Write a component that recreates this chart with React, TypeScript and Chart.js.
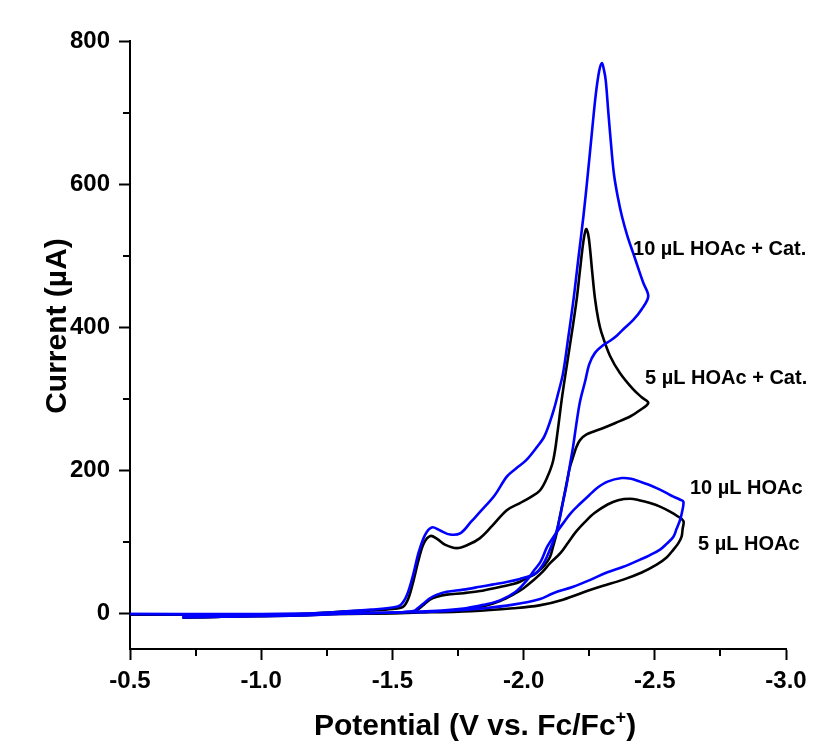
import React, { useEffect, useRef } from 'react';
import { Chart, registerables } from 'chart.js';

Chart.register(...registerables);

const FONT = '"Liberation Sans", Arial, Helvetica, sans-serif';
const BLUE = '#0000ff';
const BLACK = '#000000';

// Axis ticks
const xTicks = [-0.5, -1.0, -1.5, -2.0, -2.5, -3.0];
const xMinorTicks = [-0.75, -1.25, -1.75, -2.25, -2.75];
const yTicks = [0, 200, 400, 600, 800];
const yMinorTicks = [100, 300, 500, 700];

// 10 µL HOAc + Cat. (blue) — cathodic sweep then return sweep
const cat10FwdPotential = [-0.70, -0.85, -1.00, -1.15, -1.30, -1.42, -1.50, -1.53, -1.555, -1.58, -1.60, -1.625, -1.65, -1.68, -1.72, -1.76, -1.80, -1.84, -1.89, -1.936, -1.97, -2.01, -2.05, -2.08, -2.113, -2.13, -2.15, -2.17, -2.19, -2.21, -2.228, -2.245, -2.26, -2.275, -2.288, -2.298, -2.306, -2.313, -2.323, -2.335, -2.345, -2.36, -2.374, -2.395, -2.418, -2.44, -2.456, -2.475];
const cat10FwdCurrent = [-5, -4, -3, -1, 2, 5, 8, 11, 25, 55, 85, 110, 120, 116, 110, 112, 128, 144, 165, 191, 202, 214, 232, 248, 282, 305, 335, 385, 438, 500, 555, 615, 671, 725, 758, 769, 760, 745, 700, 648, 612, 580, 556, 528, 503, 479, 462, 443];
const cat10RevPotential = [-2.45, -2.418, -2.38, -2.355, -2.33, -2.304, -2.272, -2.25, -2.235, -2.215, -2.20, -2.189, -2.177, -2.164, -2.151, -2.138, -2.122, -2.107, -2.09, -2.075, -2.05, -2.024, -1.986, -1.94, -1.88, -1.834, -1.77, -1.707, -1.67, -1.643, -1.62, -1.60, -1.58, -1.50, -1.30, -1.00, -0.75, -0.50];
const cat10RevCurrent = [425, 410, 397, 388, 381, 375, 364, 348, 325, 296, 262, 234, 208, 180, 157, 133, 110, 95, 80, 69, 57, 52, 48, 44, 40, 37, 33, 30, 26, 21, 14, 8, 3, 1, 0, -1, -1, -1];

// 5 µL HOAc + Cat. (black)
const cat5FwdPotential = [-0.70, -0.85, -1.00, -1.15, -1.30, -1.42, -1.50, -1.54, -1.56, -1.58, -1.60, -1.62, -1.645, -1.67, -1.70, -1.745, -1.79, -1.834, -1.88, -1.936, -1.986, -2.03, -2.063, -2.09, -2.113, -2.13, -2.145, -2.164, -2.185, -2.202, -2.215, -2.228, -2.238, -2.246, -2.253, -2.262, -2.272, -2.285, -2.297, -2.329, -2.367, -2.418, -2.45, -2.475];
const cat5FwdCurrent = [-6, -5, -3, -1, 2, 4, 6, 9, 20, 45, 75, 98, 108, 104, 96, 91, 96, 105, 122, 144, 154, 163, 172, 190, 214, 255, 298, 345, 395, 438, 480, 520, 537, 530, 510, 475, 440, 410, 392, 360, 336, 313, 302, 294];
const cat5RevPotential = [-2.44, -2.406, -2.35, -2.304, -2.24, -2.215, -2.202, -2.19, -2.177, -2.164, -2.151, -2.138, -2.126, -2.113, -2.101, -2.08, -2.063, -2.04, -2.012, -1.986, -1.961, -1.90, -1.834, -1.77, -1.707, -1.67, -1.643, -1.62, -1.60, -1.58, -1.50, -1.20, -0.90, -0.50];
const cat5RevCurrent = [283, 275, 266, 259, 250, 242, 233, 220, 205, 182, 158, 135, 112, 94, 79, 67, 61, 54, 49, 44, 41, 36, 31, 28, 26, 23, 19, 12, 6, 2, 0, -1, -2, -2];

// 10 µL HOAc (blue)
const hoac10FwdPotential = [-0.70, -0.85, -1.00, -1.15, -1.30, -1.50, -1.65, -1.78, -1.85, -1.91, -1.97, -2.01, -2.04, -2.065, -2.09, -2.12, -2.151, -2.18, -2.215, -2.25, -2.28, -2.32, -2.374, -2.41, -2.444, -2.475, -2.507, -2.54, -2.571, -2.595, -2.609];
const hoac10FwdCurrent = [-6, -5, -4, -3, -1, 1, 3, 7, 12, 18, 30, 45, 60, 72, 93, 110, 126, 140, 153, 165, 175, 184, 189, 188, 184, 180, 175, 169, 163, 159, 156];
const hoac10RevPotential = [-2.603, -2.596, -2.583, -2.571, -2.545, -2.52, -2.48, -2.444, -2.38, -2.317, -2.25, -2.189, -2.113, -2.063, -1.96, -1.85, -1.70, -1.50, -1.20, -0.90, -0.50];
const hoac10RevCurrent = [140, 130, 118, 107, 97, 89, 81, 75, 65, 57, 46, 37, 28, 20, 12, 7, 3, 1, -1, -2, -1];

// 5 µL HOAc (black)
const hoac5FwdPotential = [-0.70, -0.85, -1.00, -1.15, -1.30, -1.50, -1.70, -1.783, -1.85, -1.91, -1.96, -2.00, -2.037, -2.07, -2.101, -2.14, -2.17, -2.20, -2.235, -2.27, -2.32, -2.36, -2.406, -2.44, -2.482, -2.52, -2.558, -2.585, -2.609];
const hoac5FwdCurrent = [-6, -5, -4, -3, -1, 0, 3, 6, 10, 17, 26, 35, 46, 57, 70, 84, 99, 114, 128, 140, 152, 158, 160, 158, 154, 149, 142, 136, 129];
const hoac5RevPotential = [-2.606, -2.602, -2.59, -2.571, -2.545, -2.507, -2.45, -2.38, -2.30, -2.25, -2.15, -2.06, -1.96, -1.80, -1.60, -1.30, -1.00, -0.50];
const hoac5RevCurrent = [118, 107, 98, 89, 78, 68, 57, 47, 38, 32, 19, 11, 7, 3, 1, -1, -2, -2];

// Curve labels (anchored in data coordinates: left edge, baseline)
const labelTexts = ['10 \u00b5L HOAc + Cat.', '5 \u00b5L HOAc + Cat.', '10 \u00b5L HOAc', '5 \u00b5L HOAc'];
const labelPotentials = [-2.417, -2.463, -2.634, -2.665];
const labelCurrents = [501, 321, 167, 88];

const toPoints = (xs: number[], ys: number[]) => xs.map((x, i) => ({ x, y: ys[i] }));

const decorPlugin = {
  id: 'decor',
  afterDraw(chart: any) {
    const { ctx, chartArea } = chart;
    const xs = chart.scales.x;
    const ys = chart.scales.y;
    ctx.save();
    ctx.strokeStyle = '#000';
    ctx.lineWidth = 2;
    xMinorTicks.forEach((v) => {
      const px = Math.round(xs.getPixelForValue(v));
      ctx.beginPath();
      ctx.moveTo(px, chartArea.bottom);
      ctx.lineTo(px, chartArea.bottom + 7);
      ctx.stroke();
    });
    yMinorTicks.forEach((v) => {
      const py = Math.round(ys.getPixelForValue(v));
      ctx.beginPath();
      ctx.moveTo(chartArea.left, py);
      ctx.lineTo(chartArea.left - 7, py);
      ctx.stroke();
    });

    ctx.fillStyle = '#000';
    ctx.font = `bold 20px ${FONT}`;
    ctx.textAlign = 'left';
    ctx.textBaseline = 'alphabetic';
    labelTexts.forEach((t, i) => {
      ctx.fillText(t, xs.getPixelForValue(labelPotentials[i]), ys.getPixelForValue(labelCurrents[i]));
    });

    // X axis title with superscript
    const main = 'Potential (V vs. Fc/Fc';
    const sup = '+';
    const tail = ')';
    ctx.font = `bold 30px ${FONT}`;
    const wMain = ctx.measureText(main).width;
    const wTail = ctx.measureText(tail).width;
    ctx.font = `bold 18px ${FONT}`;
    const wSup = ctx.measureText(sup).width;
    const cx = (chartArea.left + chartArea.right) / 2 + 17;
    const baseY = chart.height - 8;
    let sx = cx - (wMain + wSup + wTail) / 2;
    ctx.font = `bold 30px ${FONT}`;
    ctx.fillText(main, sx, baseY);
    sx += wMain;
    ctx.font = `bold 18px ${FONT}`;
    ctx.fillText(sup, sx, baseY - 12);
    sx += wSup;
    ctx.font = `bold 30px ${FONT}`;
    ctx.fillText(tail, sx, baseY);

    // Y axis title
    ctx.save();
    ctx.translate(chartArea.left - 64, (chartArea.top + chartArea.bottom) / 2 - 19);
    ctx.rotate(-Math.PI / 2);
    ctx.textAlign = 'center';
    ctx.font = `bold 30px ${FONT}`;
    ctx.fillText('Current (\u00b5A)', 0, 0);
    ctx.restore();

    ctx.restore();
  },
};

export default function App() {
  const ref = useRef<HTMLCanvasElement>(null);
  useEffect(() => {
    if (!ref.current) return;
    const line = (label: string, xs: number[], ys: number[], color: string, order: number) => ({
      label,
      data: toPoints(xs, ys),
      borderColor: color,
      backgroundColor: color,
      borderWidth: 2.6,
      pointRadius: 0,
      tension: 0.35,
      fill: false,
      order,
    });
    const chart = new Chart(ref.current, {
      type: 'line',
      data: {
        datasets: [
          line('10 \u00b5L HOAc + Cat.', [...cat10FwdPotential, ...cat10RevPotential], [...cat10FwdCurrent, ...cat10RevCurrent], BLUE, 0),
          line('10 \u00b5L HOAc', [...hoac10FwdPotential, ...hoac10RevPotential], [...hoac10FwdCurrent, ...hoac10RevCurrent], BLUE, 1),
          line('5 \u00b5L HOAc + Cat.', [...cat5FwdPotential, ...cat5RevPotential], [...cat5FwdCurrent, ...cat5RevCurrent], BLACK, 2),
          line('5 \u00b5L HOAc', [...hoac5FwdPotential, ...hoac5RevPotential], [...hoac5FwdCurrent, ...hoac5RevCurrent], BLACK, 3),
        ],
      } as any,
      options: {
        responsive: false,
        animation: false,
        layout: { padding: { left: 0, right: 39, top: 41, bottom: 0 } },
        plugins: { legend: { display: false }, tooltip: { enabled: false } },
        scales: {
          x: {
            type: 'linear',
            min: -3.0,
            max: -0.5,
            reverse: true,
            afterBuildTicks: (s: any) => {
              s.ticks = xTicks.map((v) => ({ value: v }));
            },
            afterFit: (s: any) => {
              s.height = 94;
            },
            grid: { drawOnChartArea: false, drawTicks: true, tickLength: 11, tickWidth: 2, tickColor: '#000' },
            border: { display: true, color: '#000', width: 2 },
            ticks: {
              color: '#000',
              font: { family: FONT, size: 24, weight: 'bold' },
              padding: 7,
              maxRotation: 0,
              autoSkip: false,
              callback: (v: any) => Number(v).toFixed(1),
            },
          },
          y: {
            type: 'linear',
            min: -50,
            max: 800,
            afterBuildTicks: (s: any) => {
              s.ticks = yTicks.map((v) => ({ value: v }));
            },
            afterFit: (s: any) => {
              s.width = 130;
            },
            grid: { drawOnChartArea: false, drawTicks: true, tickLength: 11, tickWidth: 2, tickColor: '#000' },
            border: { display: true, color: '#000', width: 2 },
            ticks: {
              color: '#000',
              font: { family: FONT, size: 24, weight: 'bold' },
              padding: 9,
              autoSkip: false,
              callback: (v: any) => String(v),
            },
          },
        },
      } as any,
      plugins: [decorPlugin],
    });
    return () => chart.destroy();
  }, []);
  return (
    <div style={{ position: 'absolute', left: 0, top: 0, width: 825, height: 743, background: '#fff' }}>
      <canvas ref={ref} width={825} height={743} style={{ display: 'block' }} />
    </div>
  );
}
